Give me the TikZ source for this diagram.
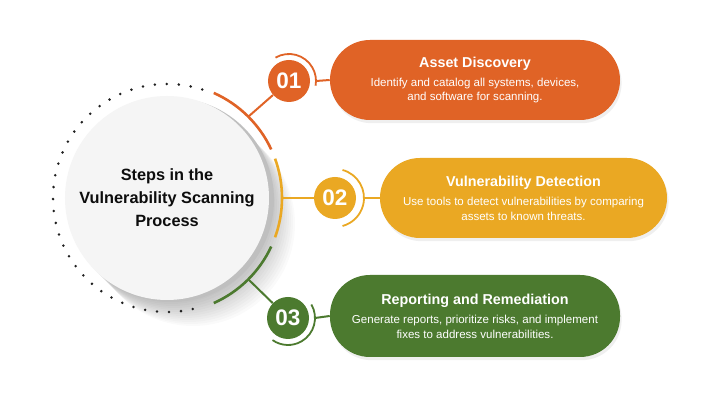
\documentclass[tikz,border=0pt]{standalone}
\usepackage{fontspec}
\setmainfont{Liberation Sans}
\usetikzlibrary{calc,shadows}
\definecolor{stepone}{HTML}{E06326}
\definecolor{steptwo}{HTML}{EAA823}
\definecolor{stepthree}{HTML}{4C7A2F}
\newcommand{\pilltitle}{\fontsize{10.2}{13}\selectfont\bfseries}
\newcommand{\pilltext}{\fontsize{8.2}{10}\selectfont}

\begin{document}
\begin{tikzpicture}[x=0.25mm,y=0.25mm,
  pill/.style={rounded corners=10mm,minimum width=72.5mm,minimum height=20mm,
    inner sep=0pt,text=white,align=center,font=\pilltext,
    drop shadow={opacity=0.12,shadow xshift=0.4mm,shadow yshift=-0.8mm}},
  numdot/.style={circle,minimum size=10.5mm,inner sep=0pt,text=white,
    font=\fontsize{16}{16}\selectfont\bfseries},
  ring/.style={line width=0.65mm},
  link/.style={line width=0.5mm},
  halo/.style={line width=0.45mm},
  dots/.style={line width=0.7mm,line cap=round,dash pattern=on 0pt off 3mm,gray!25!black}]
  \useasboundingbox[fill=white] (0,0) rectangle (720,404);
  % soft shadow of the central disc
  \foreach \d in {2,4,...,26}
    \fill[black,opacity=0.018] (167+\d,206-\d) circle (102);
  \fill[gray!50] (172,204) circle (102);
  \node[circle,minimum size=51mm,inner sep=0pt,fill=gray!8,align=center,
    text=gray!10!black,font=\fontsize{11.6}{16.3}\selectfont\bfseries]
    (core) at (167,206) {Steps in the\\Vulnerability Scanning\\Process};
  \draw[dots] ($(core.center)+(72:114)$) arc (72:288:114);
  % coloured ring segments
  \draw[ring,stepone] ($(core.center)+(25:115)$) arc (25:66:115);
  \draw[ring,steptwo] ($(core.center)+(-20:115)$) arc (-20:20:115);
  \draw[ring,stepthree] ($(core.center)+(-66:115)$) arc (-66:-25:115);
  \coordinate (a1) at ($(core.center)+(45:115)$);
  \coordinate (a2) at ($(core.center)+(0:115)$);
  \coordinate (a3) at ($(core.center)+(-45:115)$);
  % step numbers
  \node[numdot,fill=stepone] (n1) at (289,323) {01};
  \node[numdot,fill=steptwo] (n2) at (335,206) {02};
  \node[numdot,fill=stepthree] (n3) at (288,86) {03};
  \draw[halo,stepone] ($(n1.center)+(120:27)$) arc (120:-10:27);
  \draw[halo,steptwo] ($(n2.center)+(75:29)$) arc (75:-75:29);
  \draw[halo,stepthree] ($(n3.center)+(30:27)$) arc (30:-125:27);
  \coordinate (h1) at ($(n1.center)+(27,0)$);
  \coordinate (h2) at ($(n2.center)+(29,0)$);
  \coordinate (h3) at ($(n3.center)+(27,0)$);
  % step pills
  \node[pill,fill=stepone] (p1) at (475,324)
    {{\pilltitle Asset Discovery}\\[4pt]Identify and catalog all systems, devices,\\and software for scanning.};
  \node[pill,fill=steptwo,minimum width=71.75mm] (p2) at (523.5,206)
    {{\pilltitle Vulnerability Detection}\\[4pt]Use tools to detect vulnerabilities by comparing\\assets to known threats.};
  \node[pill,fill=stepthree,minimum height=20.5mm] (p3) at (475,88)
    {{\pilltitle Reporting and Remediation}\\[4pt]Generate reports, prioritize risks, and implement\\fixes to address vulnerabilities.};
  % connectors
  \draw[link,stepone] (a1) -- (n1);
  \draw[link,steptwo] (a2) -- (n2);
  \draw[link,stepthree] (a3) -- (n3);
  \draw[link,stepone] (h1) -- (p1.west);
  \draw[link,steptwo] (h2) -- (p2.west);
  \draw[link,stepthree] (h3) -- (p3.west);
\end{tikzpicture}
\end{document}
